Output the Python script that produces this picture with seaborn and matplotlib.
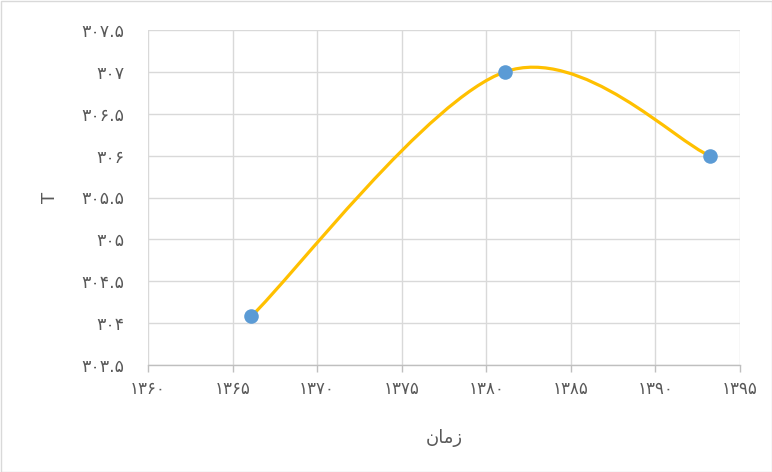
import numpy as np
import pandas as pd
import matplotlib
matplotlib.use("Agg")
import matplotlib.pyplot as plt
import seaborn as sns
from matplotlib.path import Path
from matplotlib.patches import PathPatch, Rectangle

years = [1366.1, 1381.1, 1393.2]
temps = [304.08, 307.0, 306.0]
x_ticks = [1360, 1365, 1370, 1375, 1380, 1385, 1390, 1395]
y_ticks = [303.5, 304, 304.5, 305, 305.5, 306, 306.5, 307, 307.5]
x_label = "زمان"
y_label = "T"

FA = str.maketrans("0123456789", "۰۱۲۳۴۵۶۷۸۹")
def fa(v):
    s = ("%g" % v)
    return s.translate(FA)

# visual (shaped, LTR-ordered) form of the Persian label
def shape_zaman():
    return "\uFEE5\uFE8E\uFEE3\uFEAF"

sns.set_theme(style="white")
plt.rcParams['font.family'] = ['DejaVu Sans']

df = pd.DataFrame({"year": years, "T": temps})

fig = plt.figure(figsize=(7.72, 4.72), dpi=100)
ax = fig.add_axes([148/772, 1-365/472, (740-148)/772, (365-30)/472])

# Excel-like smoothed curve (cubic Bezier through points)
P = np.column_stack([years, temps])
verts = [tuple(P[0])]
codes = [Path.MOVETO]
n = len(P)
for i in range(n-1):
    p0 = P[i-1] if i > 0 else P[i]
    p1 = P[i]
    p2 = P[i+1]
    p3 = P[i+2] if i+2 < n else P[i+1]
    c1 = p1 + (p2 - p0) / 6
    c2 = p2 - (p3 - p1) / 6
    verts += [tuple(c1), tuple(c2), tuple(p2)]
    codes += [Path.CURVE4]*3
ax.add_patch(PathPatch(Path(verts, codes), fill=False, edgecolor="#FFC000", lw=2.3, zorder=3, capstyle="round"))

sns.scatterplot(data=df, x="year", y="T", ax=ax, s=110, color="#5B9BD5", edgecolor="#5B9BD5", linewidth=0, zorder=4, legend=False)

ax.set_xlim(1360, 1395)
ax.set_ylim(303.5, 307.5)
ax.set_xticks(x_ticks)
ax.set_yticks(y_ticks)
ax.set_xticklabels([fa(v) for v in x_ticks])
ax.set_yticklabels([fa(v) for v in y_ticks])
ax.grid(True, color="#D9D9D9", lw=1)
ax.set_axisbelow(True)
for s in ["top", "right", "left"]:
    ax.spines[s].set_visible(False)
ax.spines["bottom"].set_color("#BFBFBF")
ax.spines["bottom"].set_linewidth(1)
ax.tick_params(axis="x", which="major", bottom=True, length=5, color="#BFBFBF", width=1, colors="#595959", labelsize=12, pad=6)
ax.tick_params(axis="y", left=False, colors="#595959", labelsize=12.5, pad=11)
ax.set_xlabel(shape_zaman(), fontsize=13, color="#595959", labelpad=22)
ax.set_ylabel(y_label, fontsize=13, color="#595959", labelpad=16)

fig.patches.append(Rectangle((0.5/772, 0.5/472), 1-1/772, 1-1/472, transform=fig.transFigure, fill=False, edgecolor="#D9D9D9", lw=1))

fig.savefig("out.png", dpi=100)
